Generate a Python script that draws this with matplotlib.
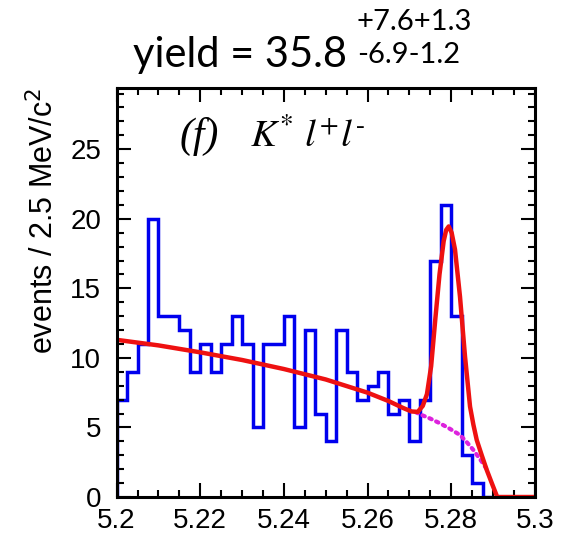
import numpy as np
import matplotlib
matplotlib.use('Agg')
import matplotlib.pyplot as plt
from matplotlib.ticker import MultipleLocator, FormatStrFormatter

plt.rcParams['font.family'] = ['Liberation Sans', 'DejaVu Sans']

# histogram: 36 bins of 2.5 MeV from 5.2 to 5.29
bin_lo = 5.2
bin_w = 0.0025
counts = [7, 9, 11, 20, 13, 13, 12, 9, 11, 9, 11, 13, 11, 5, 11, 11, 13, 5,
          12, 6, 4, 12, 9, 7, 8, 9, 6, 7, 4, 7, 17, 21, 13, 3, 1, 0]

# total fit curve
fit_x = [5.2, 5.21, 5.22, 5.23, 5.24, 5.25, 5.26, 5.265, 5.2685, 5.2705,
         5.272, 5.2732, 5.2742, 5.2752, 5.2762, 5.2772, 5.2782, 5.2788,
         5.2794, 5.2801, 5.2809, 5.2821, 5.2833, 5.2845, 5.2853, 5.2861,
         5.2873, 5.2885, 5.2897, 5.2910, 5.3]
fit_y = [11.3, 10.9, 10.4, 9.85, 9.2, 8.45, 7.5, 6.9, 6.4, 6.15,
         6.12, 6.55, 7.4, 9.4, 12.8, 16.0, 18.4, 19.2,
         19.45, 19.0, 17.8, 14.4, 10.1, 6.5, 5.2, 4.1,
         3.0, 1.94, 1.0, 0.0, 0.0]

# background component (dotted)
bkg_x = [5.2715, 5.2725, 5.2749, 5.2773, 5.2797, 5.2821, 5.2837, 5.2853, 5.2873, 5.2885]
bkg_y = [6.1, 5.95, 5.65, 5.3, 4.9, 4.46, 3.95, 3.38, 2.54, 2.0]

x_ticks = [5.2, 5.22, 5.24, 5.26, 5.28, 5.3]
y_ticks = [0, 5, 10, 15, 20, 25]

fig = plt.figure(figsize=(5.66, 5.41), dpi=100)
ax = fig.add_axes([0.206, 0.0813, 0.739, 0.756])

edges = bin_lo + bin_w * np.arange(len(counts) + 1)
ax.stairs(counts, edges, color='#0000ee', linewidth=2.5, baseline=0)
ax.plot(bkg_x, bkg_y, color='#dd22dd', linestyle=(0, (0.6, 1.2)),
        linewidth=3.0, dash_capstyle='round')
ax.plot(fit_x, fit_y, color='#ee1111', linewidth=3.2, solid_joinstyle='round')

ax.set_xlim(5.2, 5.3)
ax.set_ylim(0, 29.4)
ax.set_xticks(x_ticks)
ax.set_yticks(y_ticks)
ax.xaxis.set_major_formatter(FormatStrFormatter('%g'))
ax.xaxis.set_minor_locator(MultipleLocator(0.005))
ax.yaxis.set_minor_locator(MultipleLocator(1))
ax.tick_params(which='both', direction='in', top=True, right=True, width=1.5,
               labelsize=20)
ax.tick_params(which='major', length=10)
ax.tick_params(which='minor', length=5)
ax.tick_params(axis='x', pad=8)
ax.tick_params(axis='y', pad=11)
for s in ax.spines.values():
    s.set_linewidth(2.2)

fig.text(44 / 566, 1 - 88 / 541, 'events / 2.5 MeV/c$^2$', rotation=90,
         ha='center', va='top', fontsize=22)

# label in the plot
ax.text(0.15, 0.855, '(f)', transform=ax.transAxes, fontsize=30,
        family='Liberation Serif', style='italic', va='baseline')
ax.text(0.318, 0.855, r'$K^{*}\ l^{+}l^{\text{-}}$', transform=ax.transAxes,
        fontsize=28, math_fontfamily='stix', va='baseline')

# yield text above the frame
fig.text(133 / 566, 1 - 67 / 541, 'yield = 35.8', fontsize=30, family='Lato',
         va='baseline')
fig.text(357 / 566, 1 - 30 / 541, '+7.6+1.3', fontsize=21, family='Lato',
         va='baseline')
fig.text(357 / 566, 1 - 63 / 541, '-6.9-1.2', fontsize=21, family='Lato',
         va='baseline')

fig.savefig('out.png', dpi=100)
